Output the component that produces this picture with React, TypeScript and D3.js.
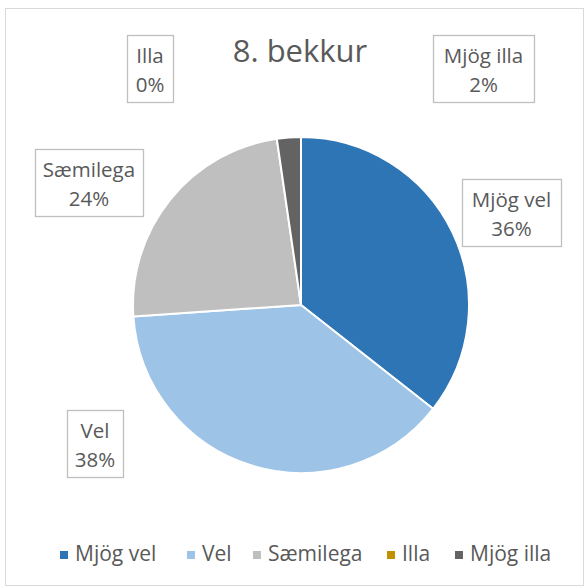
import React, { useMemo } from "react";
import * as d3 from "d3";

const categories = ["Mjög vel", "Vel", "Sæmilega", "Illa", "Mjög illa"];
const values = [35.6, 38.3, 23.8, 0, 2.3];
const percentLabels = ["36%", "38%", "24%", "0%", "2%"];
const colors = ["#2E75B6", "#9DC3E6", "#BFBFBF", "#BF9000", "#636363"];
const title = "8. bekkur";

// label box layout (left x, top y, width, height)
const labelBoxes = [
  { x: 462, y: 179, w: 99, h: 67 },
  { x: 67, y: 410, w: 56, h: 67 },
  { x: 35, y: 149, w: 108, h: 67 },
  { x: 127, y: 35, w: 46, h: 67 },
  { x: 433, y: 35, w: 101, h: 67 },
];
const legendSquareX = [60, 187, 253, 387, 455];

const W = 587;
const H = 588;
const cx = 301;
const cy = 305;
const R = 168;
const FONT = "'Open Sans', 'Noto Sans', sans-serif";
const TEXT = "#595959";

export default function App() {
  const arcs = useMemo(() => {
    const pie = d3
      .pie<number>()
      .sort(null)
      .value((d) => d)
      .startAngle(0)
      .endAngle(2 * Math.PI);
    return pie(values);
  }, []);
  const arcGen = d3.arc<d3.PieArcDatum<number>>().innerRadius(0).outerRadius(R);

  const legendX = d3.scaleOrdinal<string, number>().domain(categories).range(legendSquareX);

  return (
    <div style={{ position: "fixed", left: 0, top: 0, width: W, height: H, background: "#fff" }}>
      <svg width={W} height={H} style={{ display: "block" }}>
        <rect x={0} y={0} width={W} height={H} fill="#fff" />
        <rect x={5.5} y={8.5} width={578} height={577} fill="#fff" stroke="#d9d9d9" strokeWidth={1} />
        <text x={300} y={62} textAnchor="middle" fontFamily={FONT} fontSize={31} fill={TEXT}>
          {title}
        </text>
        <g transform={`translate(${cx},${cy})`}>
          {arcs.map((a, i) =>
            a.value > 0 ? (
              <path key={i} d={arcGen(a) || ""} fill={colors[i]} stroke="#fff" strokeWidth={2} strokeLinejoin="round" />
            ) : null
          )}
        </g>
        {labelBoxes.map((b, i) => (
          <g key={i}>
            <rect x={b.x + 0.5} y={b.y + 0.5} width={b.w} height={b.h} fill="#fff" stroke="#bfbfbf" strokeWidth={1.3} />
            <text x={b.x + b.w / 2} y={b.y + b.h / 2 - 6} textAnchor="middle" fontFamily={FONT} fontSize={20.5} fill={TEXT}>
              {categories[i]}
            </text>
            <text x={b.x + b.w / 2} y={b.y + b.h / 2 + 23} textAnchor="middle" fontFamily={FONT} fontSize={20.5} fill={TEXT}>
              {percentLabels[i]}
            </text>
          </g>
        ))}
        {categories.map((c, i) => (
          <g key={c}>
            <rect x={legendX(c)} y={551} width={8} height={8} fill={colors[i]} />
            <text x={legendX(c) + 15} y={561} fontFamily={FONT} fontSize={21} fill={TEXT}>
              {c}
            </text>
          </g>
        ))}
      </svg>
    </div>
  );
}
